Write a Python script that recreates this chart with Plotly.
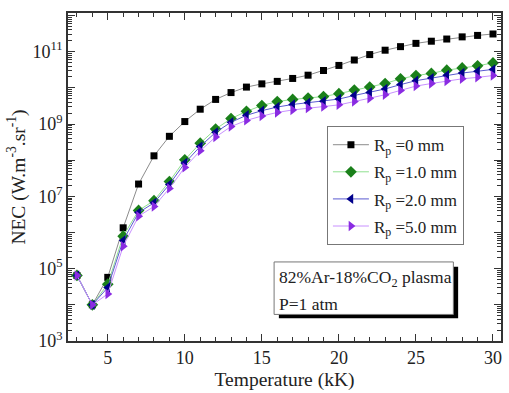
import plotly.graph_objects as go

temperature = list(range(3, 31))

nec_0mm = [6.5e4, 1.0e4, 5.75e4, 1.35e6, 2.19e7, 1.32e8, 4.57e8, 1.17e9, 2.57e9, 4.79e9,
           7.41e9, 1.05e10, 1.29e10, 1.51e10, 1.82e10, 2.24e10, 3.02e10, 4.17e10, 5.89e10,
           8.32e10, 1.10e11, 1.38e11, 1.70e11, 1.95e11, 2.24e11, 2.57e11, 2.82e11, 3.09e11]
nec_1mm = [6.5e4, 1.0e4, 3.72e4, 7.94e5, 4.07e6, 7.59e6, 2.57e7, 1.02e8, 2.95e8, 7.24e8,
           1.41e9, 2.24e9, 3.24e9, 4.17e9, 4.79e9, 5.25e9, 5.75e9, 6.92e9, 8.71e9,
           1.05e10, 1.32e10, 1.78e10, 2.19e10, 2.51e10, 3.09e10, 3.55e10, 4.07e10, 4.90e10]
nec_2mm = [6.5e4, 1.0e4, 3.02e4, 6.03e5, 3.55e6, 6.61e6, 2.14e7, 8.32e7, 2.40e8, 5.89e8,
           1.12e9, 1.74e9, 2.34e9, 2.95e9, 3.47e9, 3.89e9, 4.27e9, 4.90e9, 6.17e9,
           7.41e9, 9.33e9, 1.23e10, 1.58e10, 1.86e10, 2.24e10, 2.57e10, 2.88e10, 3.24e10]
nec_5mm = [6.5e4, 1.0e4, 2.0e4, 4.17e5, 2.82e6, 5.25e6, 1.66e7, 6.31e7, 1.82e8, 4.37e8,
           8.51e8, 1.26e9, 1.66e9, 2.09e9, 2.45e9, 2.75e9, 3.02e9, 3.39e9, 4.17e9,
           5.13e9, 6.46e9, 8.51e9, 1.12e10, 1.32e10, 1.55e10, 1.78e10, 1.95e10, 2.19e10]

series_names = ["R<sub>p</sub> =0 mm", "R<sub>p</sub> =1.0 mm", "R<sub>p</sub> =2.0 mm", "R<sub>p</sub> =5.0 mm"]
y_label_exponents = [3, 5, 7, 9, 11]
y_all_exponents = [3, 4, 5, 6, 7, 8, 9, 10, 11, 12]
x_tick_values = [5, 10, 15, 20, 25, 30]

FONT = "Liberation Serif, Times New Roman, serif"
Y_RANGE = [3, 12.07]

styles = [
    dict(line="#8c8c8c", marker="#000000", symbol="square", size=7),
    dict(line="#8fe08f", marker="#1a801a", symbol="diamond", size=9),
    dict(line="#5a5ad0", marker="#00008b", symbol="triangle-left", size=9),
    dict(line="#c890ff", marker="#8a2be2", symbol="triangle-right", size=9),
]

fig = go.Figure()
for i, (name, ys, st) in enumerate(zip(series_names, [nec_0mm, nec_1mm, nec_2mm, nec_5mm], styles)):
    fig.add_trace(go.Scatter(
        x=temperature, y=ys, name=name, mode="lines+markers", legendgroup="g%d" % i,
        line=dict(color=st["line"], width=1),
        marker=dict(color=st["marker"], symbol=st["symbol"], size=st["size"],
                    line=dict(width=0)),
    ))

# empty helper trace so the minor-tick overlay axis is drawn
fig.add_trace(go.Scatter(x=[None], y=[None], yaxis="y2", showlegend=False,
                         hoverinfo="skip", mode="markers"))

minor_vals = []
for e in range(3, 12):
    for m in range(2, 10):
        minor_vals.append(m * 10 ** e)
minor_vals.sort()
even_decades = [10 ** e for e in y_all_exponents if e not in y_label_exponents]

fig.update_layout(
    width=509, height=393,
    margin=dict(l=68, r=6, t=13, b=48),
    paper_bgcolor="white", plot_bgcolor="white",
    font=dict(family=FONT, size=17, color="#222"),
    showlegend=True,
    legend=dict(x=0.598, y=0.655, xanchor="left", yanchor="top",
                bgcolor="white", bordercolor="#777", borderwidth=1,
                font=dict(family=FONT, size=17, color="#222"),
                tracegroupgap=2, itemwidth=36),
    xaxis=dict(range=[2.42, 30.52], tickvals=x_tick_values,
               ticks="inside", ticklen=7, tickwidth=1.2, tickcolor="#333", mirror="ticks",
               showline=True, linecolor="#333", linewidth=1.5, showgrid=False,
               zeroline=False,
               minor=dict(ticks="inside", ticklen=4, tickwidth=1.2, dtick=1, tick0=0, tickcolor="#333"),
               title=dict(text="Temperature (kK)", font=dict(family=FONT, size=19.5), standoff=5),
               tickfont=dict(family=FONT, size=18)),
    yaxis=dict(type="log", range=Y_RANGE,
               tickmode="array",
               tickvals=[10 ** e for e in y_label_exponents],
               ticktext=["10<sup>%d</sup>" % e for e in y_label_exponents],
               ticks="inside", ticklen=7, tickwidth=1.2, tickcolor="#333", mirror="ticks",
               showline=True, linecolor="#333", linewidth=1.5, showgrid=False,
               zeroline=False,
               title=dict(text="NEC (W.m<sup>-3</sup>.sr<sup>-1</sup>)", font=dict(family=FONT, size=19.5), standoff=2),
               tickfont=dict(family=FONT, size=18)),
    yaxis2=dict(type="log", range=Y_RANGE, overlaying="y", anchor="x", side="left",
                tickmode="array", tickvals=minor_vals, showticklabels=False,
                ticks="inside", ticklen=4, tickwidth=1.2, tickcolor="#333", mirror="ticks",
                showline=True, linecolor="#333", linewidth=1.5,
                showgrid=False, zeroline=False),
    yaxis3=dict(type="log", range=Y_RANGE, overlaying="y", anchor="x", side="left",
                tickmode="array", tickvals=even_decades, showticklabels=False,
                ticks="inside", ticklen=7, tickwidth=1.2, tickcolor="#333", mirror="ticks",
                showline=False, showgrid=False, zeroline=False),
)
fig.add_trace(go.Scatter(x=[None], y=[None], yaxis="y3", showlegend=False,
                         hoverinfo="skip", mode="markers"))

# annotation box with shadow
fig.add_shape(type="rect", xref="paper", yref="paper",
              x0=0.487, x1=0.901, y0=0.069, y1=0.226,
              fillcolor="black", line=dict(width=0), layer="above")
fig.add_shape(type="rect", xref="paper", yref="paper",
              x0=0.476, x1=0.890, y0=0.081, y1=0.241,
              fillcolor="white", line=dict(color="#777", width=1), layer="above")
fig.add_annotation(xref="paper", yref="paper", x=0.482, y=0.19,
                   text="82%Ar-18%CO<sub>2</sub> plasma", showarrow=False,
                   xanchor="left", yanchor="middle",
                   font=dict(family=FONT, size=17.5, color="#222"))
fig.add_annotation(xref="paper", yref="paper", x=0.482, y=0.112,
                   text="P=1 atm", showarrow=False,
                   xanchor="left", yanchor="middle",
                   font=dict(family=FONT, size=17.5, color="#222"))

fig.write_html("out.html")
